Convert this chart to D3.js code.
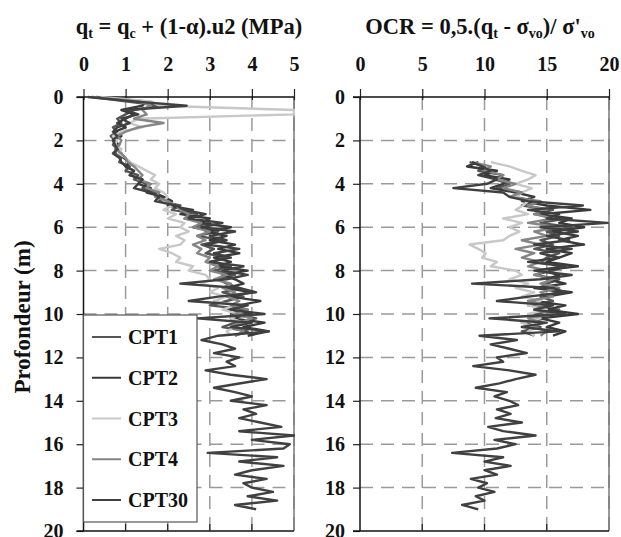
<!DOCTYPE html>
<html><head><meta charset="utf-8">
<script src="https://cdn.jsdelivr.net/npm/d3@7"></script>
<style>
body{margin:0;background:#fff;}
svg text{font-family:"Liberation Serif","Times New Roman",serif;font-weight:bold;fill:#111;}
</style></head>
<body><svg id="c" width="621" height="537"></svg>
<script>
// ---------- DATA ----------
const seriesNames = ["CPT1","CPT2","CPT3","CPT4","CPT30"];
const qtTicks = [0,1,2,3,4,5];
const ocrTicks = [0,5,10,15,20];
const depthTicks = [0,2,4,6,8,10,12,14,16,18,20];
const depthStep = 0.2;          // sampling interval (m)
const qtStart = 0;              // first depth of qt profiles (m)
const ocrStart = 3;             // first depth of OCR profiles (m)

// qt (MPa), sampled every 0.2 m from 0 m
const qtCPT1 = [0.2,1.0,1.8,1.2,1.0,0.8,
 0.9,0.7,0.8,0.65,0.75,0.7,0.8,0.75,0.9,0.85,
 1.1,1.0,1.3,1.2,1.5,1.4,1.7,1.9,1.8,2.3,
 2.1,2.7,2.4,3.0,2.6,3.2,2.7,3.3,2.8,3.1,
 2.9,3.4,3.0,3.5,3.1,3.6,3.2,3.4,3.7,3.3,
 3.8,3.4,3.0,3.9,3.5,4.1,3.6,3.3,3.9,3.6];
const qtCPT2 = [0.3,1.5,1.4,0.9,1.2,1.0,
 0.8,1.0,0.75,0.9,0.7,0.85,0.8,0.9,0.95,1.1,
 1.0,1.2,1.1,1.4,1.3,1.6,1.5,1.9,2.1,2.0,
 2.6,2.3,3.0,2.8,3.5,2.9,3.4,3.0,3.6,3.2,
 3.7,3.1,3.5,3.2,3.9,3.3,3.6,3.8,3.4,4.0,
 3.5,4.2,3.7,3.4,4.0,3.5,4.3,3.8,4.4,3.9];
const qtCPT3 = [0.4,1.6,1.8,5.0,5.0,1.3,
 1.1,1.4,0.9,0.7,0.8,0.75,0.9,0.85,1.0,1.1,
 1.3,1.5,1.7,1.6,1.8,1.7,1.9,2.0,1.9,2.1,
 1.9,2.2,2.0,2.4,2.3,2.5,2.2,2.4,2.3,1.8,
 2.1,2.3,2.2,2.6,2.5,2.9,3.0,2.8,3.2,3.0,
 3.4,3.1,3.6,3.3,3.7,3.5,3.8,3.6,3.4,3.5];
const qtCPT4 = [0.2,1.3,1.6,1.4,1.5,1.2,
 1.9,1.3,1.0,0.8,0.9,0.85,0.75,0.9,1.0,1.05,
 1.2,1.3,1.4,1.3,1.6,1.5,1.8,1.7,2.0,2.2,
 2.3,2.5,2.4,2.8,2.6,3.0,2.7,2.9,2.6,2.8,
 2.7,3.0,2.9,3.2,3.0,3.4,3.1,3.5,3.3,3.6,
 3.4,3.7,3.5,3.9,3.6,4.0,3.7,3.5,3.8,3.6];
const qtCPT30 = [0.1,1.2,2.45,1.0,1.3,0.9,1.1,0.8,0.7,0.8,0.7,
 0.75,0.8,0.7,0.85,0.9,1.0,1.2,1.1,1.4,1.3,
 1.2,1.6,1.8,1.7,2.2,2.4,2.9,2.5,3.3,2.8,
 3.6,3.0,3.4,2.9,3.7,3.1,3.5,3.0,3.8,3.3,
 3.9,3.4,2.3,3.7,4.1,3.2,2.5,3.9,3.5,4.3,
 2.7,4.0,3.5,4.4,3.2,2.8,3.3,3.6,3.1,3.7,
 3.4,3.6,2.9,3.5,4.35,3.7,3.1,3.6,4.0,3.5,
 4.35,3.8,4.1,3.7,4.2,4.7,3.7,5.0,4.0,4.9,
 4.75,2.95,4.6,3.7,4.75,4.0,3.6,4.35,3.8,4.0,
 4.5,3.9,4.6,3.6,4.1];

// OCR, sampled every 0.2 m from 3 m
const ocrCPT1 = [8.8,10.0,9.5,11.5,10.8,12.0,11.0,13.0,12.5,14.0,
 13.0,15.5,14.0,16.5,14.5,17.0,15.0,16.0,14.5,15.5,
 14.0,16.0,15.0,14.5,16.5,15.5,14.0,16.0,15.0,14.5,
 16.0,14.5,15.5,13.5,16.0,14.0,15.0,13.0,14.5,13.0,14.0];
const ocrCPT2 = [9.5,8.6,11.0,10.0,12.0,11.5,10.5,12.5,14.0,13.0,
 15.0,18.5,14.5,17.0,16.0,18.0,15.5,17.5,16.0,18.0,
 15.0,17.0,16.0,15.0,17.5,14.5,16.0,15.0,16.5,14.0,
 17.0,15.0,14.0,16.5,15.0,17.5,14.5,16.0,15.0,16.5,15.5];
const ocrCPT3 = [10.5,12.0,13.0,14.1,13.5,12.5,13.8,13.0,12.5,13.5,
 13.1,12.5,13.5,11.5,13.0,12.0,12.8,12.0,11.5,8.8,
 9.5,10.1,9.8,11.0,10.5,12.5,13.0,12.0,13.5,12.5,
 14.0,13.0,14.5,13.5,15.0,13.5,14.5,13.0,14.0,13.5,14.0];
const ocrCPT4 = [9.0,10.5,10.0,11.5,11.0,12.5,11.5,13.0,12.0,14.5,
 13.5,15.0,14.0,15.5,13.5,16.0,14.0,15.0,13.0,14.5,
 12.5,14.0,13.0,14.5,13.5,15.0,14.0,15.5,14.5,16.0,
 14.5,15.5,13.5,15.0,14.0,15.5,13.5,14.5,14.0,15.0,14.5];
const ocrCPT30 = [9.0,9.8,10.5,9.5,11.0,10.2,7.5,11.5,12.0,13.5,
 17.9,13.5,16.0,15.0,19.9,14.5,17.5,15.0,16.8,14.0,
 17.0,14.5,16.0,13.5,16.5,14.0,17.0,14.5,9.0,15.5,
 16.5,13.5,11.0,15.5,14.0,16.5,10.4,15.0,13.0,16.0,
 9.6,12.6,10.5,12.0,13.4,11.0,11.5,9.1,12.0,14.1,
 12.5,11.2,9.3,11.8,10.8,12.0,12.7,11.0,12.1,10.9,
 13.0,10.3,11.5,14.1,10.8,12.5,11.0,7.4,11.5,10.0,
 12.1,10.0,11.0,8.9,10.2,9.5,10.8,9.3,10.0,8.2,9.5];

const qtSeries = [qtCPT1,qtCPT2,qtCPT3,qtCPT4,qtCPT30];
const ocrSeries = [ocrCPT1,ocrCPT2,ocrCPT3,ocrCPT4,ocrCPT30];

// ---------- STYLE ----------
const colors = ["#555555","#3a3a3a","#c8c8c8","#858585","#404040"];
const svg = d3.select("#c");
const plotTop = 97, plotBottom = 531;
const y = d3.scaleLinear().domain([0,20]).range([plotTop,plotBottom]);

function panel(x0, x1, dom, ticks, data, start, tickLabelPad) {
  const x = d3.scaleLinear().domain(dom).range([x0,x1]);
  const g = svg.append("g");
  const id = "clip" + Math.round(x0);
  svg.append("clipPath").attr("id", id).append("rect")
     .attr("x", x0).attr("y", plotTop-2).attr("width", x1-x0+1).attr("height", plotBottom-plotTop+2);
  // grid
  g.selectAll(".vg").data(ticks.slice(1)).join("line")
    .attr("x1", d=>x(d)).attr("x2", d=>x(d)).attr("y1", plotTop).attr("y2", plotBottom)
    .attr("stroke", "#9a9a9a").attr("stroke-width", 1.5).attr("stroke-dasharray", "13,8");
  g.selectAll(".hg").data(depthTicks.slice(1,-1)).join("line")
    .attr("x1", x0).attr("x2", x1).attr("y1", d=>y(d)).attr("y2", d=>y(d))
    .attr("stroke", "#9a9a9a").attr("stroke-width", 1.5).attr("stroke-dasharray", "13,8");
  // right border
  g.append("line").attr("x1", x1).attr("x2", x1).attr("y1", plotTop).attr("y2", plotBottom)
    .attr("stroke", "#777").attr("stroke-width", 1.5);
  // top axis
  const ax = d3.axisTop(x).tickValues(ticks).tickFormat(d3.format("d")).tickSize(8).tickPadding(18);
  const gx = svg.append("g").attr("transform", `translate(0,${plotTop})`).call(ax);
  gx.select(".domain").remove();
  gx.selectAll(".tick line").attr("stroke", "#222").attr("stroke-width", 1.2).attr("y2", -8).attr("y1", 3);
  gx.selectAll("text").style("font-size", "20px").attr("fill", "#111");
  // left axis
  const ay = d3.axisLeft(y).tickValues(depthTicks).tickSize(7).tickPadding(tickLabelPad);
  const gy = svg.append("g").attr("transform", `translate(${x0},0)`).call(ay);
  gy.select(".domain").remove();
  gy.selectAll(".tick line").attr("stroke", "#222").attr("stroke-width", 1.2);
  gy.selectAll("text").style("font-size", "20px").attr("fill", "#111");
  // frame lines
  svg.append("line").attr("x1", x0-7).attr("x2", x1).attr("y1", plotTop).attr("y2", plotTop).attr("stroke", "#111").attr("stroke-width", 1.5);
  svg.append("line").attr("x1", x0-7).attr("x2", x1).attr("y1", plotBottom).attr("y2", plotBottom).attr("stroke", "#111").attr("stroke-width", 1.5);
  svg.append("line").attr("x1", x0).attr("x2", x0).attr("y1", plotTop).attr("y2", plotBottom).attr("stroke", "#111").attr("stroke-width", 1.5);
  // bottom inner ticks
  svg.append("g").selectAll("line").data(ticks.slice(1,-1)).join("line")
    .attr("x1", d=>x(d)).attr("x2", d=>x(d)).attr("y1", plotBottom-7).attr("y2", plotBottom)
    .attr("stroke", "#222").attr("stroke-width", 1.2);
  // lines
  const lg = svg.append("g").attr("clip-path", `url(#${id})`);
  const line = d3.line().x(d=>x(d[0])).y(d=>y(d[1]));
  data.forEach((vals, i) => {
    const pts = vals.map((v, k) => [v, start + k*depthStep]);
    lg.append("path").datum(pts).attr("d", line).attr("fill", "none")
      .attr("stroke", colors[i]).attr("stroke-width", 2.4).attr("stroke-linejoin", "round");
  });
  return x;
}

panel(83.5, 294, [0,5], qtTicks, qtSeries, qtStart, 13);
panel(360, 609, [0,20], ocrTicks, ocrSeries, ocrStart, 8);

// titles
const t1 = svg.append("text").attr("x", 189).attr("y", 34).attr("text-anchor", "middle").style("font-size", "22.5px");
t1.append("tspan").text("q");
t1.append("tspan").text("t").style("font-size", "14px").attr("dy", 4);
t1.append("tspan").text(" = q").attr("dy", -4);
t1.append("tspan").text("c").style("font-size", "14px").attr("dy", 4);
t1.append("tspan").text(" + (1-α).u2 (MPa)").attr("dy", -4);

const t2 = svg.append("text").attr("x", 480).attr("y", 34).attr("text-anchor", "middle").style("font-size", "22.5px");
t2.append("tspan").text("OCR = 0,5.(q");
t2.append("tspan").text("t").style("font-size", "14px").attr("dy", 4);
t2.append("tspan").text(" - σ").attr("dy", -4);
t2.append("tspan").text("vo").style("font-size", "14px").attr("dy", 4);
t2.append("tspan").text(")/ σ'").attr("dy", -4);
t2.append("tspan").text("vo").style("font-size", "14px").attr("dy", 4);

// y label
svg.append("text").attr("transform", "translate(30,317) rotate(-90)").attr("text-anchor", "middle")
  .style("font-size", "23px").text("Profondeur (m)");

// legend
const lgX = 83.5, lgY = 315, lgW = 113.5, lgH = 207;
svg.append("rect").attr("x", lgX).attr("y", lgY).attr("width", lgW).attr("height", lgH)
  .attr("fill", "#fff").attr("stroke", "#555").attr("stroke-width", 1.2);
const ly = d3.scalePoint().domain(seriesNames).range([337, 500]);
seriesNames.forEach((n, i) => {
  svg.append("line").attr("x1", 92).attr("x2", 121).attr("y1", ly(n)).attr("y2", ly(n))
    .attr("stroke", colors[i]).attr("stroke-width", 2);
  svg.append("text").attr("x", 128).attr("y", ly(n)).attr("dy", "0.35em").style("font-size", "20px").text(n);
});
</script></body></html>
